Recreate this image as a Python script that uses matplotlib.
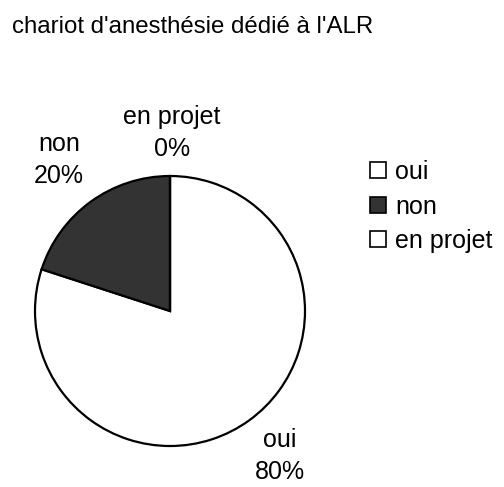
import matplotlib
matplotlib.use("Agg")
import matplotlib.pyplot as plt
from matplotlib.patches import Patch

plt.rcParams['font.family'] = ['Liberation Sans', 'DejaVu Sans']

title = "chariot d'anesthésie dédié à l'ALR"
categories = ["oui", "non", "en projet"]
values = [80, 20, 0]
colors = ["white", "#333333", "white"]

W, H = 504, 487
fig = plt.figure(figsize=(W / 100, H / 100), dpi=100)
fig.patch.set_facecolor("white")

# pie axes: center (170, 311), radius ~135 px
r = 135
cx, cy = 170, 311
ax = fig.add_axes([(cx - r) / W, 1 - (cy + r) / H, 2 * r / W, 2 * r / H])
wedges, _ = ax.pie(values, colors=colors, startangle=90, counterclock=False,
                   wedgeprops=dict(edgecolor="black", linewidth=1.6))
ax.set_xlim(-1, 1)
ax.set_ylim(-1, 1)
ax.set_aspect("auto")

fs = 18
fig.text(12 / W, 1 - 33 / H, title, fontsize=17.3, ha="left", va="baseline")

# data labels (figure pixel positions)
label_pos = {"oui": (280, 456), "non": (59, 160), "en projet": (172, 133)}
for cat, v in zip(categories, values):
    x, y = label_pos[cat]
    fig.text(x / W, 1 - y / H, f"{cat}\n{v}%", fontsize=fs, ha="center",
             va="center", linespacing=1.4)

handles = [Patch(facecolor=c, edgecolor="black", linewidth=1.2) for c in colors]
leg = fig.legend(handles, categories, loc="upper left",
                 bbox_to_anchor=(370 / W, 1 - 160 / H), frameon=False,
                 fontsize=fs, handlelength=0.62, handleheight=0.62,
                 handletextpad=0.38, labelspacing=0.42, borderpad=0,
                 borderaxespad=0)

fig.savefig("out.png", dpi=100, facecolor="white")
